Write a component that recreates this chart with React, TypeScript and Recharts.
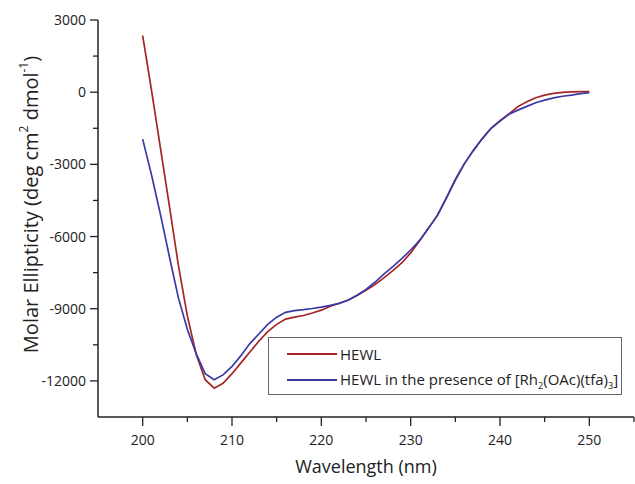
import React from "react";
import { LineChart, Line, XAxis, YAxis, Legend } from "recharts";

const wavelengths = [
  200, 201, 202, 203, 204, 205, 206, 207, 208, 209,
  210, 211, 212, 213, 214, 215, 216, 217, 218, 219,
  220, 221, 222, 223, 224, 225, 226, 227, 228, 229,
  230, 231, 232, 233, 234, 235, 236, 237, 238, 239,
  240, 241, 242, 243, 244, 245, 246, 247, 248, 249, 250,
];

const hewl = [
  2350, 50, -2350, -4750, -7200, -9300, -10900, -11950, -12300, -12100,
  -11700, -11250, -10800, -10350, -9950, -9650, -9430, -9350, -9280, -9180,
  -9060, -8900, -8770, -8640, -8450, -8230, -8000, -7720, -7420, -7100,
  -6680, -6180, -5650, -5120, -4400, -3640, -2980, -2430, -1940, -1500,
  -1180, -900, -600, -400, -230, -120, -50, -10, 10, 20, 20,
];

const hewlRh = [
  -1950, -3450, -5100, -6850, -8550, -9850, -10880, -11700, -11950, -11750,
  -11400, -10950, -10450, -10050, -9650, -9350, -9150, -9080, -9040, -8990,
  -8930, -8860, -8780, -8650, -8440, -8200, -7900, -7560, -7250, -6920,
  -6560, -6160, -5650, -5110, -4390, -3640, -2980, -2430, -1940, -1500,
  -1200, -920, -745, -590, -440, -330, -240, -170, -120, -60, -20,
];

const xTicks = [200, 205, 210, 215, 220, 225, 230, 235, 240, 245, 250, 255];
const xMajor = [200, 210, 220, 230, 240, 250];
const yTicks = [-12000, -10500, -9000, -7500, -6000, -4500, -3000, -1500, 0, 1500, 3000];
const yMajor = [-12000, -9000, -6000, -3000, 0, 3000];

const RED = "#a52424";
const BLUE = "#3a3aa6";
const AXIS = "#222222";
const FONT = "'Open Sans', sans-serif";

const data = wavelengths.map((w, i) => ({ w, hewl: hewl[i], hewlRh: hewlRh[i] }));

const XTick = (props: any) => {
  const { x, y, payload } = props;
  const major = xMajor.includes(payload.value);
  return (
    <g>
      <line x1={x} x2={x} y1={y} y2={y + (major ? 9 : 5)} stroke={AXIS} strokeWidth={1.3} />
      {major && (
        <text x={x} y={y + 28} textAnchor="middle" fontSize={14} fontFamily={FONT} fill="#222">
          {payload.value}
        </text>
      )}
    </g>
  );
};

const YTick = (props: any) => {
  const { x, y, payload } = props;
  const major = yMajor.includes(payload.value);
  return (
    <g>
      <line x1={x} x2={x - (major ? 8 : 5)} y1={y} y2={y} stroke={AXIS} strokeWidth={1.3} />
      {major && (
        <text x={x - 12} y={y + 5} textAnchor="end" fontSize={14} fontFamily={FONT} fill="#222">
          {payload.value}
        </text>
      )}
    </g>
  );
};

const YTitle = (props: any) => {
  const vb = props.viewBox || { x: 0, y: 20, width: 98, height: 397 };
  const cx = 33;
  const cy = vb.y + vb.height / 2 - 14;
  return (
    <text
      x={cx}
      y={cy}
      transform={`rotate(-90 ${cx} ${cy})`}
      textAnchor="middle"
      dominantBaseline="middle"
      fontSize={20}
      fontFamily={FONT}
      fill="#222"
    >
      <tspan>Molar Ellipticity (deg cm</tspan>
      <tspan fontSize={12} dy={-8}>2</tspan>
      <tspan dy={8}> dmol</tspan>
      <tspan fontSize={12} dy={-8}>-1</tspan>
      <tspan dy={8}>)</tspan>
    </text>
  );
};

const XTitle = (props: any) => {
  const vb = props.viewBox || { x: 98, y: 417, width: 536, height: 67 };
  return (
    <text
      x={vb.x + vb.width / 2}
      y={vb.y + 56}
      textAnchor="middle"
      fontSize={18}
      fontFamily={FONT}
      fill="#222"
    >
      Wavelength (nm)
    </text>
  );
};

const LegendBox = () => {
  const row = (color: string, label: React.ReactNode) => (
    <div style={{ display: "flex", alignItems: "center", height: 26 }}>
      <div style={{ width: 50, height: 0, borderTop: `2px solid ${color}`, marginLeft: 18, marginRight: 3 }} />
      <span style={{ fontFamily: FONT, fontSize: 15, color: "#222", whiteSpace: "nowrap" }}>{label}</span>
    </div>
  );
  return (
    <div
      style={{
        border: "1px solid #666",
        background: "#fff",
        boxSizing: "border-box",
        width: 354,
        height: 58,
        paddingTop: 3,
      }}
    >
      {row(RED, "HEWL")}
      {row(
        BLUE,
        <>
          HEWL in the presence of [Rh<sub style={{ fontSize: 9 }}>2</sub>(OAc)(tfa)
          <sub style={{ fontSize: 9 }}>3</sub>]
        </>
      )}
    </div>
  );
};

export default function App() {
  return (
    <div style={{ position: "absolute", left: 0, top: 0, width: 635, height: 484, background: "#fff" }}>
      <LineChart width={635} height={484} data={data} margin={{ top: 20, right: 1, bottom: 0, left: 0 }}>
        <XAxis
          dataKey="w"
          type="number"
          domain={[195, 255]}
          ticks={xTicks}
          interval={0}
          height={67}
          tickSize={0}
          tickMargin={0}
          tickLine={false}
          tick={<XTick />}
          axisLine={{ stroke: AXIS, strokeWidth: 1.5 }}
          label={<XTitle />}
        />
        <YAxis
          type="number"
          domain={[-13500, 3000]}
          ticks={yTicks}
          interval={0}
          width={98}
          tickSize={0}
          tickMargin={0}
          tickLine={false}
          tick={<YTick />}
          axisLine={{ stroke: AXIS, strokeWidth: 1.5 }}
          label={<YTitle />}
        />
        <Legend
          layout="horizontal"
          verticalAlign="middle"
          align="center"
          content={<LegendBox />}
          wrapperStyle={{ left: 268, top: 337, width: 354, height: 58 }}
        />
        <Line
          type="linear"
          dataKey="hewl"
          name="HEWL"
          stroke={RED}
          strokeWidth={1.7}
          dot={false}
          isAnimationActive={false}
        />
        <Line
          type="linear"
          dataKey="hewlRh"
          name="HEWL in the presence of [Rh2(OAc)(tfa)3]"
          stroke={BLUE}
          strokeWidth={1.7}
          dot={false}
          isAnimationActive={false}
        />
      </LineChart>
    </div>
  );
}
